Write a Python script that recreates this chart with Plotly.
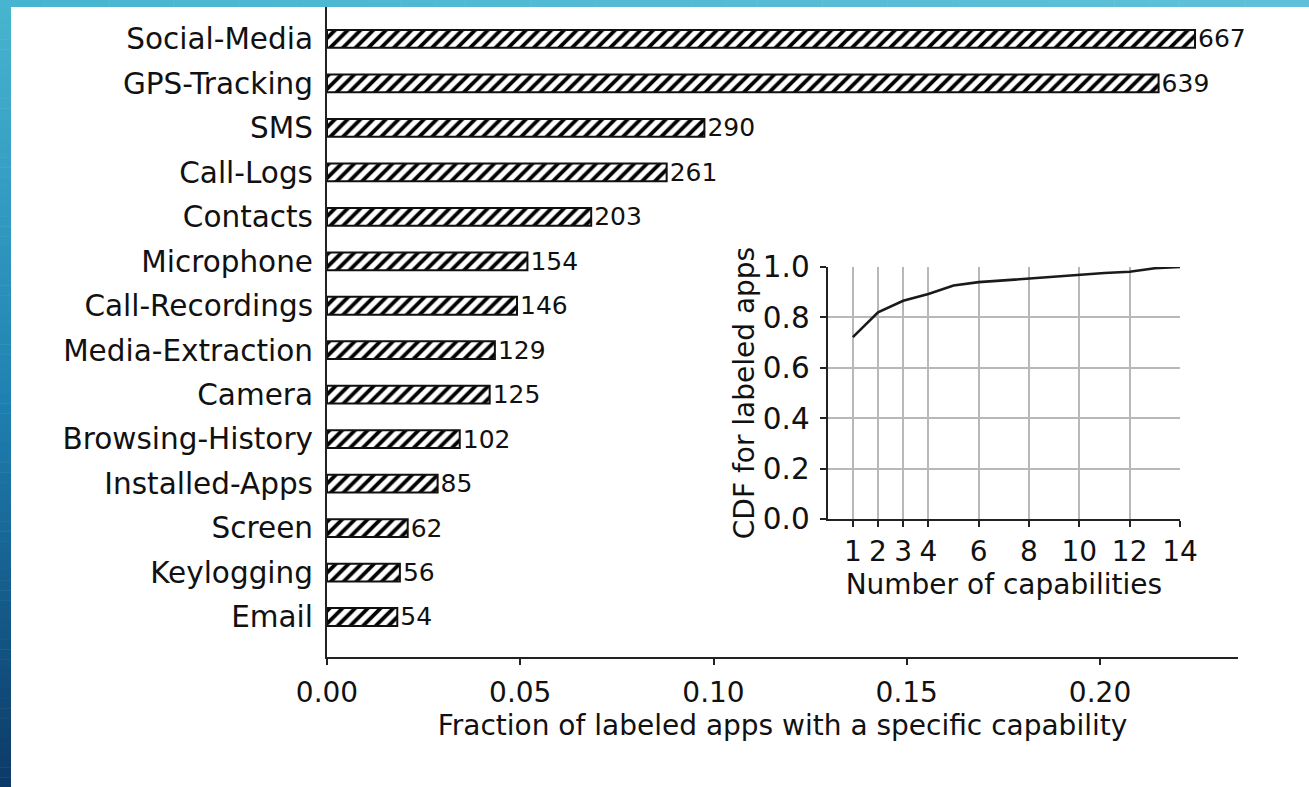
import plotly.graph_objects as go

# Capability counts among labeled apps (top to bottom)
capabilities = ["Social-Media", "GPS-Tracking", "SMS", "Call-Logs", "Contacts",
                "Microphone", "Call-Recordings", "Media-Extraction", "Camera",
                "Browsing-History", "Installed-Apps", "Screen", "Keylogging", "Email"]
app_counts = [667, 639, 290, 261, 203, 154, 146, 129, 125, 102, 85, 62, 56, 54]
total_labeled_apps = 2970
fractions = [c / total_labeled_apps for c in app_counts]

# CDF of number of capabilities per labeled app
num_capabilities = [1, 2, 3, 4, 5, 6, 7, 8, 9, 10, 11, 12, 13, 14]
cdf_values = [0.722, 0.820, 0.866, 0.893, 0.927, 0.940, 0.947, 0.954,
              0.962, 0.971, 0.976, 0.981, 0.995, 1.0]

main_ticks = [0.00, 0.05, 0.10, 0.15, 0.20]
inset_xticks = [1, 2, 3, 4, 6, 8, 10, 12, 14]
inset_yticks = [0.0, 0.2, 0.4, 0.6, 0.8, 1.0]

W, H = 1309, 787
ML, MR, MT, MB = 327, 71, 0, 130
PW, PH = W - ML - MR, H - MT - MB
FONT = "DejaVu Sans"
INK = "#111111"
GRID = "#b8b8b8"


def px_x(p):
    return (p - ML) / PW


def px_y(p):
    return (H - MB - p) / PH


fig = go.Figure()

fig.add_trace(go.Bar(
    y=capabilities, x=fractions, orientation="h", width=0.4,
    marker=dict(color="white", line=dict(color=INK, width=2),
                pattern=dict(shape="/", fgcolor="#000000", bgcolor="white",
                             size=9, solidity=0.42)),
    text=[str(c) for c in app_counts], textposition="outside",
    constraintext="none", cliponaxis=False,
    textfont=dict(family=FONT, size=25, color=INK),
    showlegend=False, hoverinfo="skip",
))

fig.add_trace(go.Scatter(
    x=num_capabilities, y=cdf_values, mode="lines",
    line=dict(color="#1a1a1a", width=2.6),
    xaxis="x2", yaxis="y2", showlegend=False, hoverinfo="skip",
))

fig.update_layout(
    template="none",
    width=W, height=H,
    margin=dict(l=ML, r=MR, t=MT, b=MB, pad=0, autoexpand=False),
    paper_bgcolor="white", plot_bgcolor="white",
    font=dict(family=FONT, size=28, color=INK),
    xaxis=dict(
        automargin=False,
        range=[0, 0.2357], tickvals=main_ticks, tickformat=".2f",
        showgrid=False, zeroline=False,
        showline=True, linecolor="#222222", linewidth=2.2,
        ticks="outside", ticklen=6, tickwidth=2, tickcolor="#222222",
        ticklabelstandoff=3,
        title=dict(text="Fraction of labeled apps with a specific capability",
                   font=dict(size=28), standoff=0),
    ),
    yaxis=dict(
        automargin=False,
        type="category", categoryorder="array", categoryarray=capabilities,
        range=[13.9, -0.876], tickfont=dict(size=29.5),
        showgrid=False, zeroline=False,
        showline=True, linecolor="#222222", linewidth=2.2,
        ticks="outside", ticklen=6, tickcolor="rgba(0,0,0,0)",
    ),
    xaxis2=dict(
        automargin=False,
        domain=[px_x(827.7), px_x(1180)], anchor="y2",
        range=[0, 14], tickvals=inset_xticks,
        showgrid=True, gridcolor=GRID, gridwidth=2,
        zeroline=False, showline=True, linecolor="#222222", linewidth=2.2,
        ticks="outside", ticklen=6, tickwidth=2, tickcolor="#222222",
        ticklabelstandoff=0,
        title=dict(text="Number of capabilities", font=dict(size=28), standoff=0),
    ),
    yaxis2=dict(
        automargin=False,
        domain=[px_y(519), px_y(267)], anchor="x2",
        range=[0, 1.0], tickvals=inset_yticks, tickformat=".1f",
        tickfont=dict(size=29.5),
        showgrid=True, gridcolor=GRID, gridwidth=2,
        zeroline=False, showline=True, linecolor="#222222", linewidth=2.2,
        ticks="outside", ticklen=6, tickwidth=2, tickcolor="#222222",
        ticklabelstandoff=4,
        title=dict(text="CDF for labeled apps", font=dict(size=28), standoff=0),
    ),
)


# Slide-style frame: vertical gradient strip on the left, cyan strip on top
def lerp(c0, c1, t):
    return tuple(round(a + (b - a) * t) for a, b in zip(c0, c1))


left_stops = [(0.0, (72, 181, 208)), (0.5, (31, 130, 178)), (1.0, (12, 57, 103))]
bands = 80
shapes = []
for i in range(bands):
    t = (i + 0.5) / bands
    for (t0, c0), (t1, c1) in zip(left_stops[:-1], left_stops[1:]):
        if t0 <= t <= t1:
            col = lerp(c0, c1, (t - t0) / (t1 - t0))
            break
    y0 = H * i / bands
    y1 = H * (i + 1) / bands + 0.5
    shapes.append(dict(type="rect", xref="paper", yref="paper",
                       x0=px_x(0), x1=px_x(11), y0=px_y(y1), y1=px_y(y0),
                       fillcolor="rgb(%d,%d,%d)" % col, line=dict(width=0),
                       layer="above"))

top_bands = 40
for i in range(top_bands):
    t = (i + 0.5) / top_bands
    col = lerp((72, 181, 208), (95, 193, 217), t)
    x0 = 11 + (W - 11) * i / top_bands
    x1 = 11 + (W - 11) * (i + 1) / top_bands + 0.5
    shapes.append(dict(type="rect", xref="paper", yref="paper",
                       x0=px_x(x0), x1=px_x(x1), y0=px_y(7), y1=px_y(0),
                       fillcolor="rgb(%d,%d,%d)" % col, line=dict(width=0),
                       layer="above"))

fig.update_layout(shapes=shapes)

fig.write_html("out.html")
